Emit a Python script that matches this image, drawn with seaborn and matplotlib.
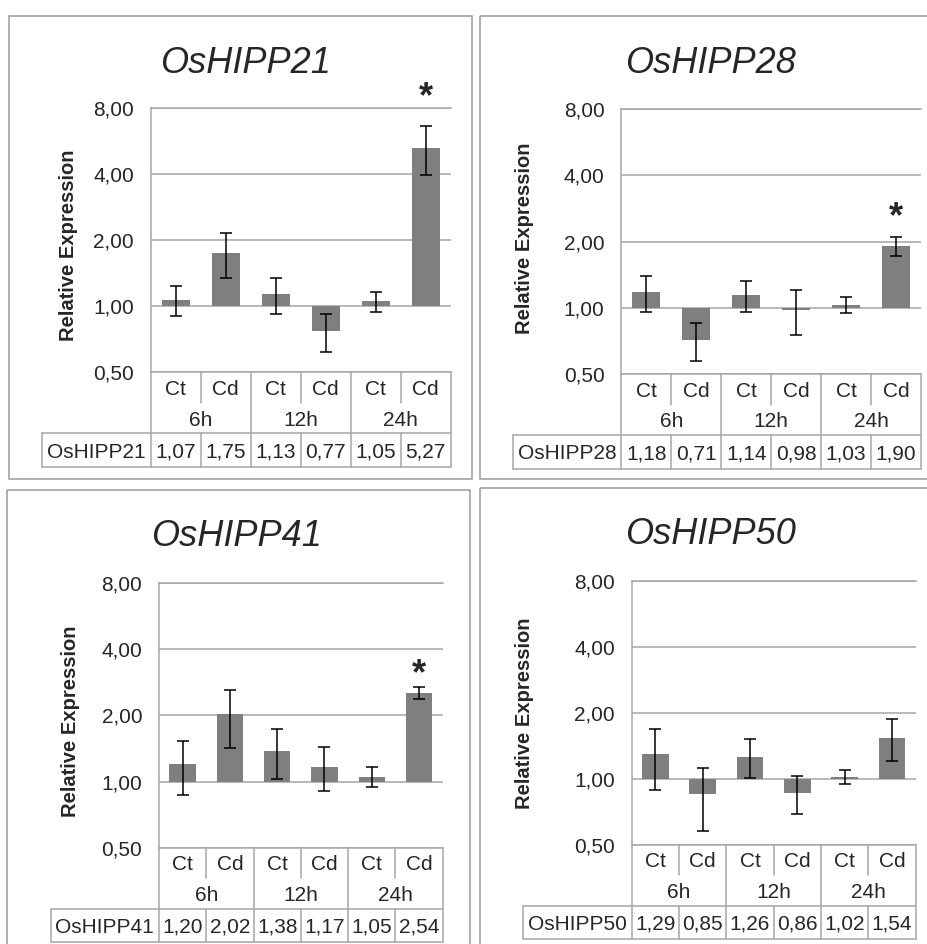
"""Relative expression of four OsHIPP genes under Cd treatment (6h, 12h, 24h), log2 axis with data table."""
import numpy as np
import pandas as pd
import seaborn as sns
import matplotlib.pyplot as plt
from matplotlib.transforms import Affine2D, blended_transform_factory
from matplotlib.lines import Line2D
from matplotlib.patches import Rectangle

# data
genes = ["OsHIPP21", "OsHIPP28", "OsHIPP41", "OsHIPP50"]
times = ["6h", "12h", "24h"]
treatments = ["Ct", "Cd"]
tick_vals = [0.5, 1.0, 2.0, 4.0, 8.0]
tick_labels = ["0,50", "1,00", "2,00", "4,00", "8,00"]

expr_21 = [1.07, 1.75, 1.13, 0.77, 1.05, 5.27]
sd_21 = [0.17, 0.41, 0.21, 0.15, 0.11, 1.31]
expr_28 = [1.18, 0.71, 1.14, 0.98, 1.03, 1.90]
sd_28 = [0.22, 0.14, 0.18, 0.23, 0.086, 0.19]
expr_41 = [1.20, 2.02, 1.38, 1.17, 1.05, 2.54]
sd_41 = [0.33, 0.60, 0.355, 0.26, 0.11, 0.165]
expr_50 = [1.29, 0.85, 1.26, 0.86, 1.02, 1.54]
sd_50 = [0.40, 0.27, 0.255, 0.17, 0.075, 0.335]
significant = [[5], [5], [5], []]

all_expr = [expr_21, expr_28, expr_41, expr_50]
all_sd = [sd_21, sd_28, sd_41, sd_50]

sns.set_style("white")
plt.rcParams["font.family"] = ["Liberation Sans", "DejaVu Sans"]

W, H = 928, 944
fig = plt.figure(figsize=(W / 100, H / 100), dpi=100)
# top-left origin pixel coordinates
px = Affine2D().scale(0.01, -0.01).translate(0, H / 100) + fig.dpi_scale_trans

bar_c = "#7f7f7f"
grid_c = "#a6a6a6"
box_c = "#9a9a9a"

# box, axes (l, t, r, b), table label left, title xy, ylabel xy, star gap (px)
layout = [
    dict(box=(9, 16, 472, 479), ax=(150.7, 107.7, 450.7, 372.3), lab=42, title=(245.5, 72.7), ylab=(69, 245), star=34.8),
    dict(box=(480, 16, 945, 479), ax=(621.3, 109, 921, 374), lab=513, title=(710, 72.7), ylab=(524, 238), star=25.2),
    dict(box=(7, 490, 470, 960), ax=(159, 583, 442.7, 847.7), lab=50.7, title=(236, 546), ylab=(71, 721), star=17.6),
    dict(box=(480, 488, 945, 960), ax=(631.7, 580.7, 915.7, 844.7), lab=523, title=(710, 543.7), ylab=(524, 713), star=None),
]

conds = [f"{t} {tr}" for t in times for tr in treatments]

for gene, expr, sd, sig, lay in zip(genes, all_expr, all_sd, significant, layout):
    expr = np.array(expr)
    sd = np.array(sd)
    x0, y0, x1, y1 = lay["box"]
    fig.add_artist(Rectangle((x0, y0), x1 - x0, y1 - y0, transform=px, fill=False,
                             edgecolor=box_c, lw=1.1))

    l, t, r, b = lay["ax"]
    ax = fig.add_axes([l / W, 1 - b / H, (r - l) / W, (b - t) / H])
    df = pd.DataFrame({"cond": conds, "log2": np.log2(expr)})

    ax.set_axisbelow(True)
    ax.yaxis.grid(True, color=grid_c, lw=1.1)
    sns.barplot(data=df, x="cond", y="log2", order=conds, color=bar_c, saturation=1,
                width=0.56, errorbar=None, linewidth=0, ax=ax)
    lo = np.log2(expr) - np.log2(expr - sd)
    hi = np.log2(expr + sd) - np.log2(expr)
    ax.errorbar(np.arange(6), np.log2(expr), yerr=[lo, hi], fmt="none", ecolor="black",
                elinewidth=1.1, capsize=4.3, capthick=1.1, zorder=5)

    ax.set_xlim(-0.5, 5.5)
    ax.set_ylim(np.log2(tick_vals[0]), np.log2(tick_vals[-1]))
    ax.set_yticks(np.log2(tick_vals))
    ax.set_yticklabels(tick_labels)
    ax.set_xticks([])
    ax.set_xlabel("")
    ax.set_ylabel("")
    ax.tick_params(axis="y", length=3.6, width=1.1, color=grid_c, pad=8.5, labelsize=15)
    for side in ["left", "top", "bottom"]:
        ax.spines[side].set_color(grid_c)
        ax.spines[side].set_linewidth(1.1)
    ax.spines["right"].set_visible(False)

    # significance marks
    for i in sig:
        ax.annotate("*", xy=(i, np.log2(expr[i] + sd[i])), xytext=(0, (lay["star"] - 15.5) * 0.72),
                    textcoords="offset points", ha="center", va="baseline",
                    fontsize=26, fontweight="bold", annotation_clip=False)

    # title and y label
    fig.text(*lay["title"], gene, transform=px, ha="center", va="baseline",
             fontsize=26, style="italic")
    fig.text(*lay["ylab"], "Relative Expression", transform=px, ha="center", va="center",
             rotation=90, fontsize=14.5, fontweight="bold")

    # data table below the axis
    r0 = b
    r1 = r0 + 30.5
    r2 = r1 + 30.5
    r3 = r2 + 33.5
    bt = blended_transform_factory(ax.transData, px)
    lk = dict(color=grid_c, lw=1.1, clip_on=False)
    for xb in [-0.5, 1.5, 3.5, 5.5]:
        ax.add_line(Line2D([xb, xb], [r0, r3], transform=bt, **lk))
    for xb in [0.5, 2.5, 4.5]:
        ax.add_line(Line2D([xb, xb], [r0, r1], transform=bt, **lk))
        ax.add_line(Line2D([xb, xb], [r2, r3], transform=bt, **lk))
    lab = lay["lab"]
    for yy in [r2, r3]:
        fig.add_artist(Line2D([lab, r], [yy, yy], transform=px, **lk))
    fig.add_artist(Line2D([lab, lab], [r2, r3], transform=px, **lk))

    tk = dict(ha="center", va="center_baseline", fontsize=15)
    for i, c in enumerate(conds):
        ax.text(i, (r0 + r1) / 2, c.split()[1], transform=bt, **tk)
        ax.text(i, (r2 + r3) / 2, f"{expr[i]:.2f}".replace(".", ","), transform=bt, **tk)
    for j, tm in enumerate(times):
        ax.text(2 * j + 0.5, (r1 + r2) / 2, tm, transform=bt, **tk)
    fig.text((lab + l) / 2, (r2 + r3) / 2, gene, transform=px, **tk)

fig.savefig("out.png", dpi=100)
